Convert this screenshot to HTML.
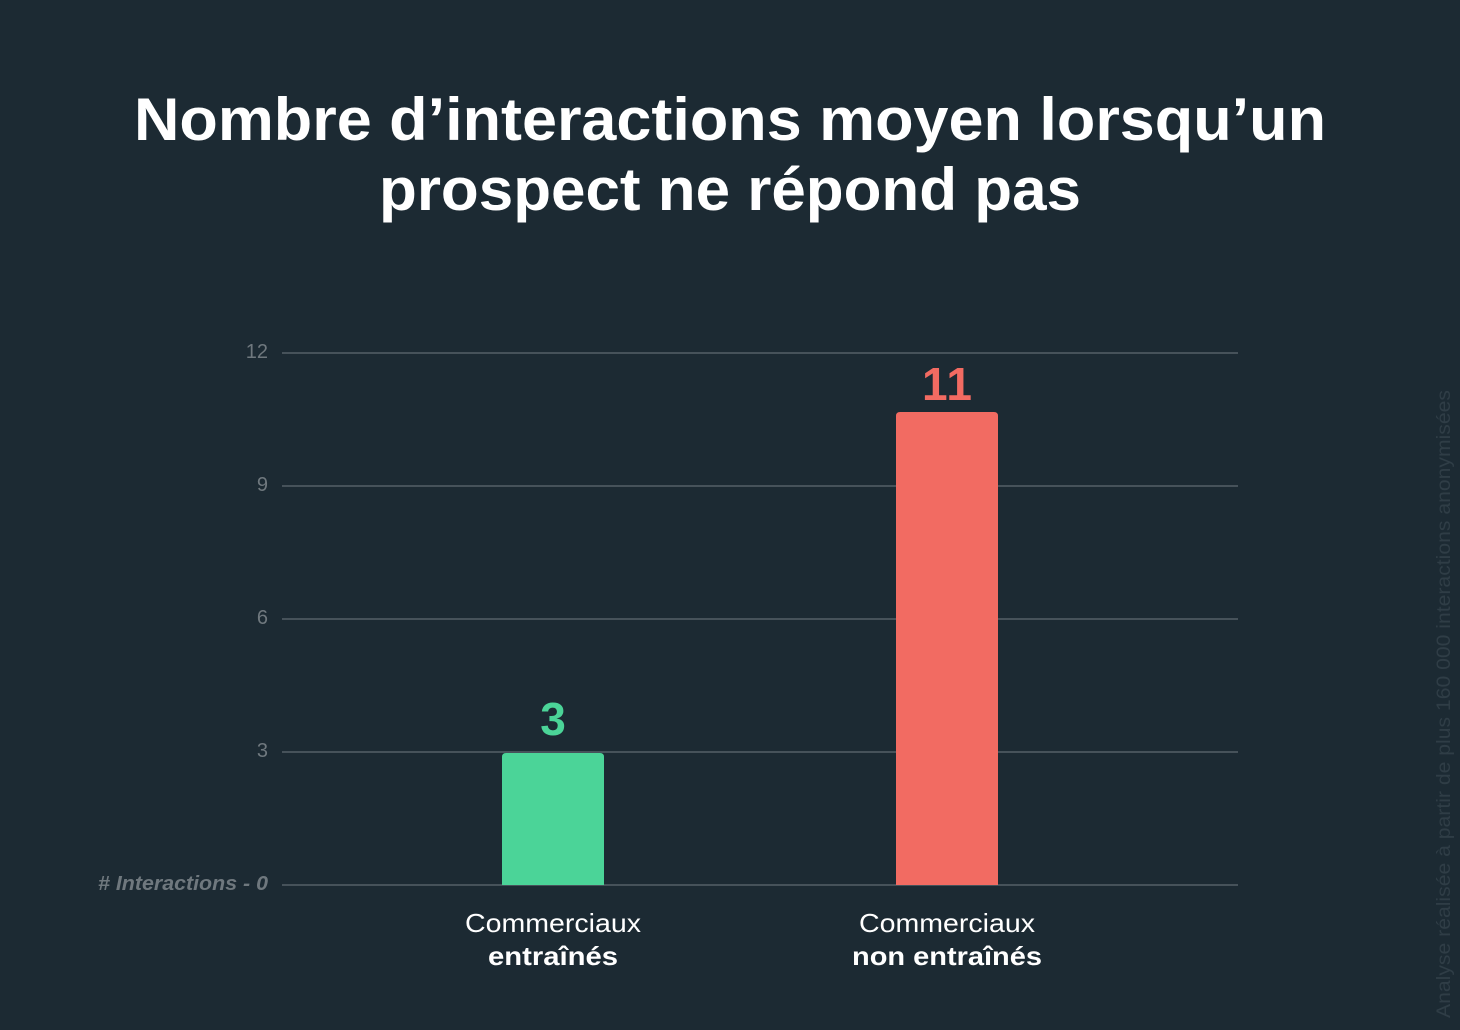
<!DOCTYPE html>
<html><head><meta charset="utf-8"><style>
html,body{margin:0;padding:0;background:#1c2a33;}
svg{display:block}
</style></head><body>
<svg width="1460" height="1030" viewBox="0 0 1460 1030" xmlns="http://www.w3.org/2000/svg">
<rect width="1460" height="1030" fill="#1c2a33"/>
<g font-family="'Liberation Sans', 'DejaVu Sans', sans-serif" fill="#fff" font-weight="bold" font-size="60">
<text x="730" y="140" text-anchor="middle" textLength="1192" lengthAdjust="spacingAndGlyphs">Nombre d’interactions moyen lorsqu’un</text>
<text x="730" y="210" text-anchor="middle" textLength="702" lengthAdjust="spacingAndGlyphs">prospect ne répond pas</text>
</g>
<g stroke="#5f6a71" stroke-width="1.3">
<line x1="282" y1="353" x2="1238" y2="353"/>
<line x1="282" y1="486" x2="1238" y2="486"/>
<line x1="282" y1="619" x2="1238" y2="619"/>
<line x1="282" y1="752" x2="1238" y2="752"/>
<line x1="282" y1="885" x2="1238" y2="885"/>
</g>
<g font-family="'Liberation Sans', sans-serif" fill="#6f787e" font-size="20" text-anchor="end">
<text x="268" y="358">12</text>
<text x="268" y="491">9</text>
<text x="268" y="624">6</text>
<text x="268" y="757">3</text>
<text x="268" y="890" font-style="italic" font-weight="bold" textLength="170" lengthAdjust="spacingAndGlyphs">#  Interactions - 0</text>
</g>
<path d="M502,885 V757 Q502,753 506,753 H600 Q604,753 604,757 V885 Z" fill="#4bd498"/>
<path d="M896,885 V416 Q896,412 900,412 H994 Q998,412 998,416 V885 Z" fill="#f26b62"/>
<g font-family="'Liberation Sans', sans-serif" font-weight="bold" font-size="46" text-anchor="middle">
<text x="553" y="735" fill="#4bd498">3</text>
<text x="947" y="400" fill="#f26b62" textLength="50" lengthAdjust="spacing">11</text>
</g>
<g font-family="'Liberation Sans', sans-serif" fill="#fff" font-size="26" text-anchor="middle">
<text x="553" y="932" textLength="176" lengthAdjust="spacingAndGlyphs">Commerciaux</text>
<text x="553" y="965" font-weight="bold" textLength="130" lengthAdjust="spacingAndGlyphs">entraînés</text>
<text x="947" y="932" textLength="176" lengthAdjust="spacingAndGlyphs">Commerciaux</text>
<text x="947" y="965" font-weight="bold" textLength="190" lengthAdjust="spacingAndGlyphs">non entraînés</text>
</g>
<text transform="translate(1450,1018) rotate(-90)" font-family="'Liberation Sans', sans-serif" font-size="19" fill="#2f3d46" textLength="628" lengthAdjust="spacingAndGlyphs">Analyse réalisée à partir de plus 160 000 interactions anonymisées</text>
</svg>
</body></html>
